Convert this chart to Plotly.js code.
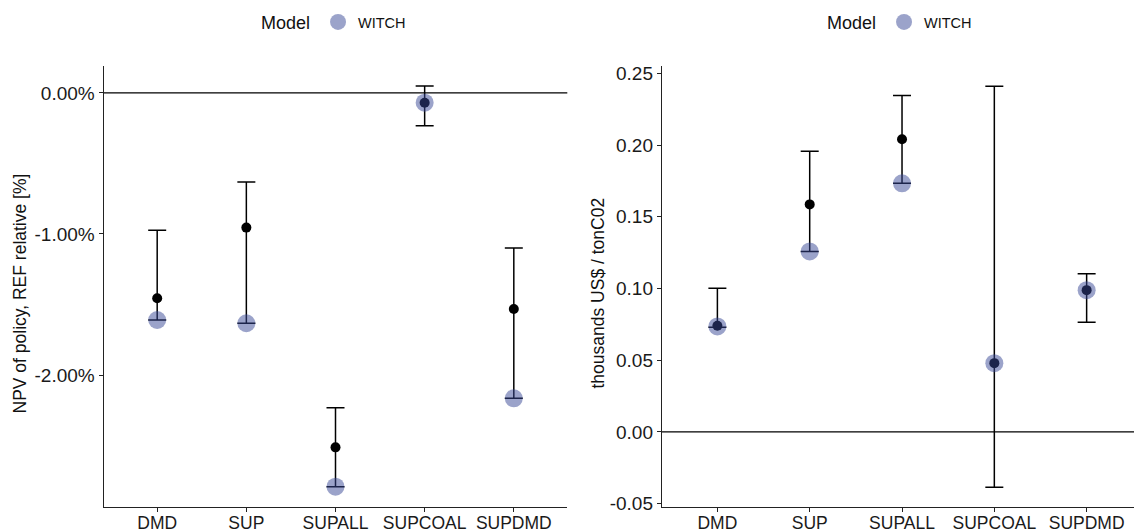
<!DOCTYPE html>
<html>
<head>
<meta charset="utf-8">
<script src="https://cdn.plot.ly/plotly-3.0.1.min.js"></script>
<style>html,body{margin:0;padding:0;background:#fff;overflow:hidden;}#chart{width:1134px;height:531px;}</style>
</head>
<body>
<div id="chart"></div>
<script>
// ---- data ----
const categories = ["DMD", "SUP", "SUPALL", "SUPCOAL", "SUPDMD"];

// Left panel: NPV of policy, REF relative (fractions, shown as %)
const npvMean  = [-0.01456, -0.00955, -0.02513, -0.00069, -0.01532];
const npvMin   = [-0.01610, -0.01633, -0.02792, -0.00232, -0.02165];
const npvMax   = [-0.00974, -0.00631, -0.02232,  0.00050, -0.01099];
const npvWitch = [-0.01610, -0.01633, -0.02792, -0.00069, -0.02165];

// Right panel: thousands US$ / tonCO2
const costMean  = [0.0740, 0.1586, 0.2040, 0.0479, 0.0988];
const costMin   = [0.0730, 0.1258, 0.1733, -0.0387, 0.0765];
const costMax   = [0.1002, 0.1956, 0.2346, 0.2410, 0.1102];
const costWitch = [0.0735, 0.1258, 0.1733, 0.0479, 0.0988];

const npvTickVals = [0, -0.01, -0.02];
const npvTickText = ["0.00%", "-1.00%", "-2.00%"];
const costTickVals = [-0.05, 0, 0.05, 0.10, 0.15, 0.20, 0.25];
const costTickText = ["-0.05", "0.00", "0.05", "0.10", "0.15", "0.20", "0.25"];

const modelName = "WITCH";
const leftTitle = "NPV of policy, REF relative [%]";
const rightTitle = "thousands US$ / tonC02";
// ---------------

const witchColor = "rgba(56,72,150,0.5)";
const FONT = "Liberation Sans, Arial, sans-serif";

function meanTrace(mean, mn, mx, xa, ya) {
  return {
    type: "scatter", mode: "markers", x: categories, y: mean, xaxis: xa, yaxis: ya,
    showlegend: false, hoverinfo: "skip",
    marker: {color: "#000", size: 10},
    error_y: {
      type: "data", symmetric: false,
      array: mx.map((v, i) => v - mean[i]),
      arrayminus: mn.map((v, i) => mean[i] - v),
      color: "#000", thickness: 1.5, width: 9
    }
  };
}
function witchTrace(vals, xa, ya, lg, show) {
  return {
    type: "scatter", mode: "markers", x: categories, y: vals, xaxis: xa, yaxis: ya,
    name: modelName, legend: lg, showlegend: show,
    marker: {color: witchColor, size: 18}
  };
}

const data = [
  meanTrace(npvMean, npvMin, npvMax, "x", "y"),
  witchTrace(npvWitch, "x", "y", "legend", true),
  meanTrace(costMean, costMin, costMax, "x2", "y2"),
  witchTrace(costWitch, "x2", "y2", "legend2", true)
];

const W = 1134, H = 531;
const yDom = [(H - 507) / H, (H - 66) / H];

function xAxis(dom, range) {
  return {
    domain: dom, type: "category", range: range, automargin: false,
    showline: true, linecolor: "#222", linewidth: 1.2, zeroline: false, showgrid: false,
    ticks: "outside", ticklen: 4, tickcolor: "#222", tickwidth: 1,
    ticklabelstandoff: -4,
    tickfont: {family: FONT, size: 17.5, color: "#1a1a1a"}, fixedrange: true
  };
}
function yAxis(anchor, range, tv, tt) {
  return {
    domain: yDom, anchor: anchor, range: range, automargin: false,
    showline: true, linecolor: "#222", linewidth: 1.2, zeroline: false, showgrid: false,
    ticks: "outside", ticklen: 4, tickcolor: "#222", tickwidth: 1,
    tickmode: "array", tickvals: tv, ticktext: tt,
    tickfont: {family: FONT, size: 19, color: "#1a1a1a"},
    fixedrange: true
  };
}

const legendCommon = {
  orientation: "h", xref: "paper", yref: "paper", xanchor: "center", yanchor: "middle",
  y: (H - 23) / H, bgcolor: "rgba(0,0,0,0)",
  title: {text: "Model", side: "left", font: {family: FONT, size: 18, color: "#111"}},
  font: {family: FONT, size: 14.5, color: "#111"}, itemsizing: "trace"
};

const yMid = (yDom[0] + yDom[1]) / 2 - 7 / H;

const layout = {
  width: W, height: H,
  margin: {l: 0, r: 0, t: 0, b: 0},
  paper_bgcolor: "#fff", plot_bgcolor: "#fff",
  font: {family: FONT},
  xaxis: xAxis([103.7 / W, 567.3 / W], [-0.6, 4.6]),
  yaxis: yAxis("x", [-0.02936, 0.00191], npvTickVals, npvTickText),
  xaxis2: xAxis([662 / W, 1], [-0.6, 4.513]),
  yaxis2: yAxis("x2", [-0.0524, 0.2551], costTickVals, costTickText),
  legend: Object.assign({}, legendCommon, {x: 335 / W}),
  legend2: Object.assign({}, legendCommon, {x: 901 / W}),
  annotations: [
    {text: leftTitle, xref: "paper", yref: "paper", x: 19 / W, y: yMid, textangle: -90,
     showarrow: false, xanchor: "center", yanchor: "middle", font: {family: FONT, size: 17.5, color: "#111"}},
    {text: rightTitle, xref: "paper", yref: "paper", x: 597 / W, y: yMid, textangle: -90,
     showarrow: false, xanchor: "center", yanchor: "middle", font: {family: FONT, size: 17.5, color: "#111"}}
  ],
  shapes: [
    {type: "line", xref: "x domain", yref: "y", x0: 0, x1: 1, y0: 0, y1: 0, line: {color: "#000", width: 1.3}, layer: "below"},
    {type: "line", xref: "x2 domain", yref: "y2", x0: 0, x1: 1, y0: 0, y1: 0, line: {color: "#000", width: 1.3}, layer: "below"}
  ],
  showlegend: true
};

Plotly.newPlot("chart", data, layout, {displayModeBar: false, staticPlot: true});
</script>
</body>
</html>
